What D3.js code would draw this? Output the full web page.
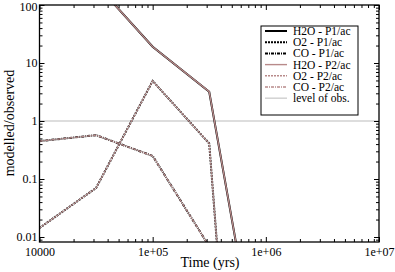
<!DOCTYPE html>
<html>
<head>
<meta charset="utf-8">
<script src="https://d3js.org/d3.v7.min.js"></script>
<style>
  body { margin:0; background:#fff; }
  svg text { font-family:"Liberation Serif", "Times New Roman", Times, serif; }
</style>
</head>
<body>
<div id="chart"></div>
<script>
// time points (yrs) and modelled/observed ratios
const times = [1e4, 3.16e4, 1e5, 3.16e5, 1e6];
const h2oP1 = [1500, 229, 19.1, 3.2, 1e-5];
const o2P1 = [0.0143, 0.07, 4.9, 0.41, 1e-13];
const coP1 = [0.45, 0.57, 0.25, 0.0069, 1e-13];
const h2oP2 = [1500, 229, 19.1, 3.2, 1e-5];
const o2P2 = [0.0143, 0.07, 4.9, 0.41, 1e-13];
const coP2 = [0.45, 0.57, 0.25, 0.0069, 1e-13];
const obsLevel = 1;

const xTicks = [1e4, 1e5, 1e6, 1e7];
const xTickLabels = ["10000", "1e+05", "1e+06", "1e+07"];
const yTicks = [0.01, 0.1, 1, 10, 100];
const yTickLabels = ["0.01", "0.1", "1", "10", "100"];

const width = 395, height = 272;
const margin = {left:39.5, right:16, top:5, bottom:30};

const svg = d3.select("#chart").append("svg")
  .attr("width", width).attr("height", height);

const x = d3.scaleLog().domain([1e4, 1e7]).range([margin.left, width - margin.right]);
const y = d3.scaleLog().domain([0.0082, 100]).range([height - margin.bottom, margin.top]);

// minor tick values
function minors(lo, hi) {
  const out = [];
  for (let d = lo; d < hi; d *= 10)
    for (let k = 2; k <= 9; k++) out.push(d * k);
  return out;
}
const xMinor = minors(1e4, 1e7);
const yMinor = minors(0.01, 100).concat([0.009]);

svg.append("clipPath").attr("id", "clip")
  .append("rect")
  .attr("x", margin.left).attr("y", margin.top)
  .attr("width", x.range()[1] - x.range()[0])
  .attr("height", y.range()[0] - y.range()[1]);

const plot = svg.append("g").attr("clip-path", "url(#clip)");

// level of observation
plot.append("line")
  .attr("x1", x(1e4)).attr("x2", x(1e7))
  .attr("y1", y(obsLevel)).attr("y2", y(obsLevel))
  .attr("stroke", "#d2d2d2").attr("stroke-width", 1.5);

const line = d3.line().x((d, i) => x(times[i])).y(d => y(d));

const series = [
  {name:"H2O - P1/ac", vals:h2oP1, color:"#000", dash:null, w:2},
  {name:"O2 - P1/ac", vals:o2P1, color:"#000", dash:"2,1", w:2},
  {name:"CO - P1/ac", vals:coP1, color:"#000", dash:"3,1,1,1", w:2},
  {name:"H2O - P2/ac", vals:h2oP2, color:"#b88a8a", dash:null, w:1.4},
  {name:"O2 - P2/ac", vals:o2P2, color:"#b88a8a", dash:"2,1", w:1.4},
  {name:"CO - P2/ac", vals:coP2, color:"#b88a8a", dash:"3,1,1,1", w:1.4}
];

series.forEach(s => {
  plot.append("path")
    .datum(s.vals)
    .attr("d", line)
    .attr("fill", "none")
    .attr("stroke", s.color)
    .attr("stroke-width", s.w)
    .attr("stroke-dasharray", s.dash);
});

// axes with inward ticks
function addAxis(axisFn, scale, major, minor, labels, transform) {
  const g1 = svg.append("g").attr("transform", transform)
    .call(axisFn(scale).tickValues(major).tickSizeInner(-5).tickSizeOuter(0)
      .tickFormat((d, i) => labels ? labels[i] : ""));
  const g2 = svg.append("g").attr("transform", transform)
    .call(axisFn(scale).tickValues(minor).tickSizeInner(-3).tickSizeOuter(0).tickFormat(""));
  [g1, g2].forEach(g => {
    g.attr("font-family", null);
    g.select(".domain").remove();
    g.selectAll("line").attr("stroke", "#000");
  });
  g1.selectAll("text").attr("font-size", 12).attr("fill", "#000");
  return g1;
}

const xb = addAxis(d3.axisBottom, x, xTicks, xMinor, xTickLabels, `translate(0,${y.range()[0]})`);
xb.selectAll("text").attr("dy", "0.71em").attr("y", 5);
addAxis(d3.axisTop, x, xTicks, xMinor, null, `translate(0,${y.range()[1]})`);
const yl = addAxis(d3.axisLeft, y, yTicks, yMinor, yTickLabels, `translate(${x.range()[0]},0)`);
yl.selectAll("text").attr("x", -2).attr("dy", (d, i) => i === yTicks.length - 1 ? "0.42em" : "0.32em");
addAxis(d3.axisRight, y, yTicks, yMinor, null, `translate(${x.range()[1]},0)`);

// frame
svg.append("rect")
  .attr("x", margin.left).attr("y", margin.top)
  .attr("width", x.range()[1] - x.range()[0])
  .attr("height", y.range()[0] - y.range()[1])
  .attr("fill", "none").attr("stroke", "#000").attr("stroke-width", 1.3);

// axis titles
svg.append("text")
  .attr("x", 210).attr("y", 267)
  .attr("text-anchor", "middle").attr("font-size", 14)
  .text("Time (yrs)");
svg.append("text")
  .attr("transform", `translate(14,123) rotate(-90)`)
  .attr("text-anchor", "middle").attr("font-size", 14)
  .text("modelled/observed");

// legend
const legendItems = series.concat([{name:"level of obs.", color:"#d2d2d2", dash:null, w:1.5}]);
const lg = svg.append("g").attr("transform", "translate(261,26)");
lg.append("rect").attr("width", 97).attr("height", 89)
  .attr("fill", "#fff").attr("stroke", "#000").attr("stroke-width", 1);
legendItems.forEach((s, i) => {
  const yy = 5 + i * 11.2;
  lg.append("line").attr("x1", 4).attr("x2", 26).attr("y1", yy).attr("y2", yy)
    .attr("stroke", s.color).attr("stroke-width", s.w)
    .attr("stroke-dasharray", s.dash);
  lg.append("text").attr("x", 32).attr("y", yy + 4)
    .attr("font-size", 11.5).text(s.name);
});
</script>
</body>
</html>
